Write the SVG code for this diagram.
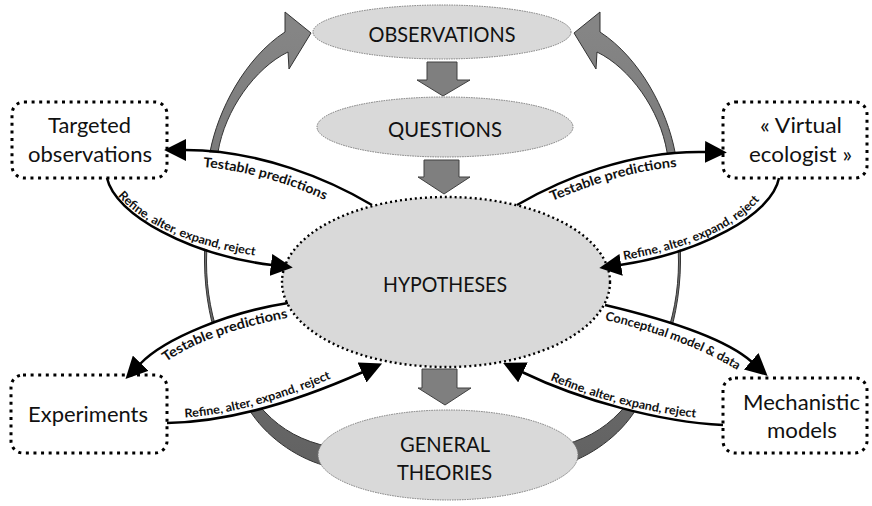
<svg xmlns="http://www.w3.org/2000/svg" xmlns:xlink="http://www.w3.org/1999/xlink" width="872" height="506" viewBox="0 0 872 506">
<style>
.nl{font-family:Lato,"Open Sans","Liberation Sans",sans-serif;font-size:21px;fill:#111;text-anchor:middle}
.el{font-family:Lato,"Liberation Sans",sans-serif;font-weight:bold;fill:#111}
.conn{fill:none;stroke:#000;stroke-width:2.5;marker-end:url(#ah)}
.box{fill:#fff;stroke:#000;stroke-width:3;stroke-dasharray:3 4.6}
.ell{fill:#d9d9d9;stroke:#7a7a7a;stroke-width:1;stroke-dasharray:1.5 1}
.hyp{fill:#d9d9d9;stroke:#000;stroke-width:2.4;stroke-dasharray:2 3}
.blk{fill:#7f7f7f;stroke:#404040;stroke-width:1}
.arc{fill:url(#g);stroke:#333;stroke-width:1}
.mask{fill:#fff}
</style>
<defs>
<linearGradient id="g" gradientUnits="userSpaceOnUse" x1="0" y1="30" x2="0" y2="465">
<stop offset="0" stop-color="#858585"/><stop offset="1" stop-color="#626262"/>
</linearGradient>
<marker id="ah" markerUnits="userSpaceOnUse" markerWidth="22" markerHeight="22" viewBox="0 0 20 20" refX="1" refY="10" orient="auto">
<path d="M0,0 L20,10 L0,20 z" fill="#000"/>
</marker>
<path id="arcL" class="arc" d="M330,467 C300,460 270,440 252,414 C232,385 205,330 204.5,262 C204.5,222 206,185 210,152 C218,110 245,58 285,32 L285,12 L311,33 L289,69 L288,52 C255,68 225,110 218,152 C214,185 206.5,225 206.5,262 C206.5,320 228,375 265,412 C282,430 302,441 330,447 Z"/>
<path id="tp1" d="M203,167 C240,170 290,181 345,210"/>
<path id="tp2" d="M118,196 C135,215 175,245 265,257"/>
<path id="tp3" d="M552,201 C590,186 640,166 700,166"/>
<path id="tp4" d="M624,260 C680,250 745,230 770,185"/>
<path id="tp5" d="M166,362 C190,345 225,330 292,317"/>
<path id="tp6" d="M185,417.5 C230,415 290,398 345,372"/>
<path id="tp7" d="M605,320 C640,328 700,345 745,375"/>
<path id="tp8" d="M550,380 C590,397 640,412 705,418.5"/>
</defs>

<g id="cycle-arrows">
<use href="#arcL"/>
<use href="#arcL" transform="translate(885,0) scale(-1,1)"/>
<polygon class="mask" points="195,151.5 230,154 230,256 195,246"/>
<polygon class="mask" points="200,328 235,315.5 280,403.5 240,414"/>
<polygon class="mask" points="655,155 695,153 695,245 655,257"/>
<polygon class="mask" points="650,317 688,329.5 645,414 600,401.5"/>
</g>

<g id="observations">
<ellipse class="ell" cx="442" cy="32" rx="129" ry="27"/>
<text class="nl" x="442" y="42" textLength="147" lengthAdjust="spacingAndGlyphs">OBSERVATIONS</text>
</g>
<g id="arrow-obs-questions">
<path class="blk" d="M427,62 H457 V80 H470 L443,96 L417,80 H427 Z"/>
</g>
<g id="questions">
<ellipse class="ell" cx="445" cy="127" rx="128" ry="30"/>
<text class="nl" x="445" y="137" textLength="114" lengthAdjust="spacingAndGlyphs">QUESTIONS</text>
</g>
<g id="arrow-questions-hypotheses">
<path class="blk" d="M424,160 H459 V177 H470 L444,194 L418,177 H424 Z"/>
</g>
<g id="hypotheses">
<ellipse class="hyp" cx="446" cy="282" rx="164" ry="85"/>
<text class="nl" x="445" y="292" textLength="124" lengthAdjust="spacingAndGlyphs">HYPOTHESES</text>
</g>
<g id="arrow-hypotheses-theories">
<path class="blk" d="M422,369 H457 V388 H471 L445,405 L418,388 H422 Z"/>
</g>
<g id="general-theories">
<ellipse class="ell" cx="448" cy="455" rx="130" ry="45"/>
<text class="nl" x="445" y="452" textLength="90" lengthAdjust="spacingAndGlyphs">GENERAL</text>
<text class="nl" x="444.5" y="480" textLength="95" lengthAdjust="spacingAndGlyphs">THEORIES</text>
</g>

<g id="targeted-observations">
<rect class="box" x="12" y="102" width="155" height="76" rx="12"/>
<text class="nl" x="89.5" y="133" textLength="83" lengthAdjust="spacingAndGlyphs">Targeted</text>
<text class="nl" x="90" y="162" textLength="124" lengthAdjust="spacingAndGlyphs">observations</text>
</g>
<g id="virtual-ecologist">
<rect class="box" x="723" y="102" width="144" height="76" rx="12"/>
<text class="nl" x="801" y="133" textLength="82" lengthAdjust="spacingAndGlyphs">« Virtual</text>
<text class="nl" x="800.5" y="162" textLength="103" lengthAdjust="spacingAndGlyphs">ecologist »</text>
</g>
<g id="experiments">
<rect class="box" x="11" y="375" width="156" height="78" rx="12"/>
<text class="nl" x="88" y="422" textLength="120" lengthAdjust="spacingAndGlyphs">Experiments</text>
</g>
<g id="mechanistic-models">
<rect class="box" x="723" y="378" width="144" height="75" rx="12"/>
<text class="nl" x="801.5" y="410" textLength="117" lengthAdjust="spacingAndGlyphs">Mechanistic</text>
<text class="nl" x="802" y="438" textLength="70" lengthAdjust="spacingAndGlyphs">models</text>
</g>

<g id="connectors">
<path class="conn" d="M372,205 C330,180 260,150 185,150"/>
<path class="conn" d="M107,178 C115,215 190,255 272,265"/>
<path class="conn" d="M517,205 C560,180 630,150 706,152"/>
<path class="conn" d="M779,178 C772,215 700,253 620,265"/>
<path class="conn" d="M288,303 C230,312 165,338 140,364"/>
<path class="conn" d="M167,423 C230,422 300,400 363,372"/>
<path class="conn" d="M605,305 C660,318 725,338 752,362"/>
<path class="conn" d="M723,425 C660,422 580,400 522,372"/>
<text class="el" font-size="13.5"><textPath href="#tp1" textLength="127" lengthAdjust="spacingAndGlyphs">Testable predictions</textPath></text>
<text class="el" font-size="12"><textPath href="#tp2" textLength="152" lengthAdjust="spacingAndGlyphs">Refine, alter, expand, reject</textPath></text>
<text class="el" font-size="13.5"><textPath href="#tp3" textLength="130" lengthAdjust="spacingAndGlyphs">Testable predictions</textPath></text>
<text class="el" font-size="12"><textPath href="#tp4" textLength="151" lengthAdjust="spacingAndGlyphs">Refine, alter, expand, reject</textPath></text>
<text class="el" font-size="13.5"><textPath href="#tp5" textLength="131" lengthAdjust="spacingAndGlyphs">Testable predictions</textPath></text>
<text class="el" font-size="12"><textPath href="#tp6" textLength="152" lengthAdjust="spacingAndGlyphs">Refine, alter, expand, reject</textPath></text>
<text class="el" font-size="12.5"><textPath href="#tp7" textLength="142" lengthAdjust="spacingAndGlyphs">Conceptual model &amp; data</textPath></text>
<text class="el" font-size="12"><textPath href="#tp8" textLength="151" lengthAdjust="spacingAndGlyphs">Refine, alter, expand, reject</textPath></text>
</g>
</svg>
